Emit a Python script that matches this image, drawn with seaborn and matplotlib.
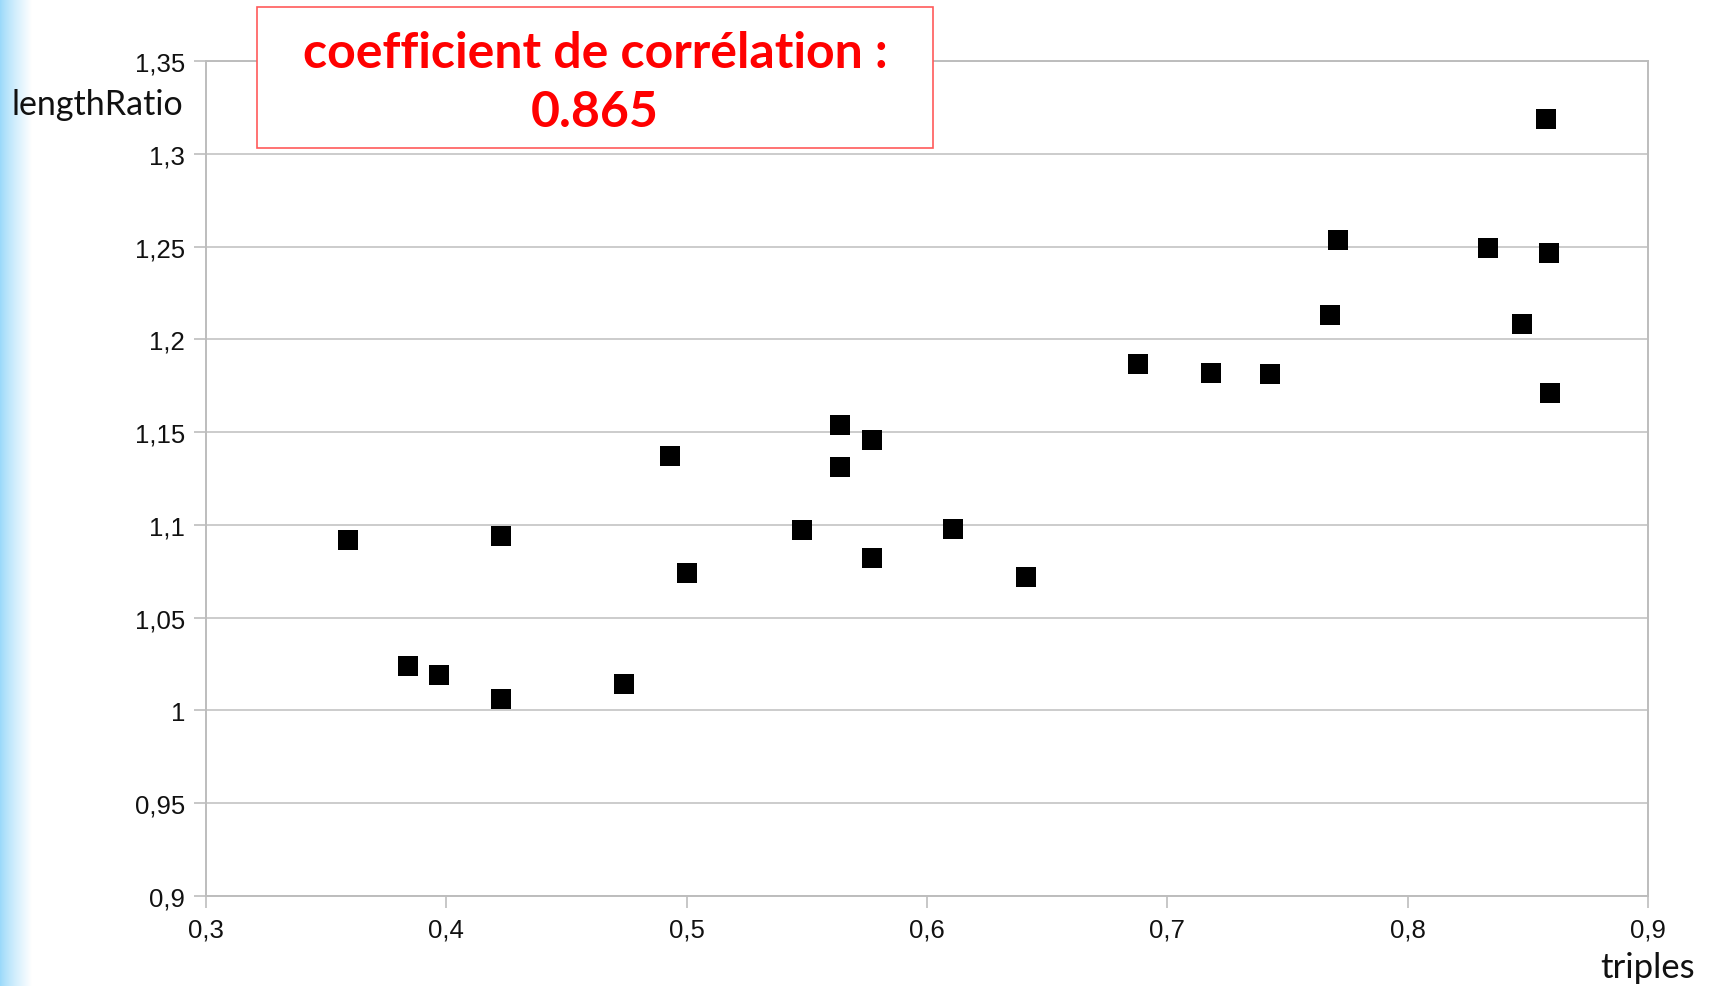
import numpy as np
import matplotlib
matplotlib.use("Agg")
import matplotlib.pyplot as plt
import seaborn as sns
import pandas as pd

# Observations: share of triples vs. length ratio
triples = [0.359, 0.384, 0.397, 0.4226, 0.4226, 0.474, 0.493, 0.500, 0.548,
           0.564, 0.564, 0.577, 0.577, 0.611, 0.641, 0.6877, 0.718, 0.7426,
           0.7675, 0.771, 0.8334, 0.8474, 0.8574, 0.8588, 0.8592]
length_ratio = [1.092, 1.024, 1.019, 1.094, 1.006, 1.0145, 1.137, 1.074, 1.097,
                1.154, 1.131, 1.1455, 1.082, 1.098, 1.072, 1.1867, 1.182, 1.1814,
                1.213, 1.2536, 1.249, 1.208, 1.319, 1.2466, 1.171]
x_ticks = [0.3, 0.4, 0.5, 0.6, 0.7, 0.8, 0.9]
y_ticks = [0.9, 0.95, 1.0, 1.05, 1.1, 1.15, 1.2, 1.25, 1.3, 1.35]
corr_text = "coefficient de corrélation :\n0.865"

df = pd.DataFrame({"triples": triples, "lengthRatio": length_ratio})

sns.set_theme(style="white")
plt.rcParams["font.family"] = ["Liberation Sans", "DejaVu Sans"]

W, H = 1709, 987
fig = plt.figure(figsize=(W / 100, H / 100), dpi=100)

# light blue fade along the left edge of the slide
band = fig.add_axes([0, 0, 32 / W, 1])
grad = np.linspace(0, 1, 64)[None, :]
c0 = np.array([0.60, 0.85, 0.98])
img = c0[None, None, :] * (1 - grad[..., None] ** 0.8) + np.ones(3)[None, None, :] * grad[..., None] ** 0.8
band.imshow(img, aspect="auto", extent=[0, 1, 0, 1])
band.set_axis_off()

ax = fig.add_axes([206 / W, 1 - 897 / H, (1648 - 206) / W, (897 - 62) / H])
sns.scatterplot(data=df, x="triples", y="lengthRatio", ax=ax, marker="s",
                s=205, color="black", linewidth=0, zorder=3)

grid_c = "#bdbdbd"
ax.set_xlim(0.3, 0.9)
ax.set_ylim(0.9, 1.35)
ax.set_xticks(x_ticks)
ax.set_yticks(y_ticks)
ax.set_xticklabels([f"{v:g}".replace(".", ",") for v in x_ticks])
ax.set_yticklabels([f"{v:g}".replace(".", ",") for v in y_ticks])
ax.yaxis.grid(True, color="#cccccc", linewidth=1.4)
ax.xaxis.grid(False)
for side in ["left", "bottom", "right", "top"]:
    ax.spines[side].set_visible(True)
    ax.spines[side].set_color(grid_c)
    ax.spines[side].set_linewidth(1.4)
ax.tick_params(axis="both", which="major", direction="out", length=8.5,
               width=1.2, color=grid_c, labelsize=18.5, labelcolor="#111111",
               left=True, bottom=True)
ax.tick_params(axis="y", pad=6.5)
ax.tick_params(axis="x", pad=7)
ax.set_xlabel("")
ax.set_ylabel("")

# axis titles placed at the ends of the axes
fig.text(12 / W, 1 - 105 / H, "lengthRatio", ha="left", va="center",
         fontsize=24.5, family=["Lato", "DejaVu Sans"], color="#111111")
fig.text(1695 / W, 1 - 968 / H, "triples", ha="right", va="center",
         fontsize=25, family=["Lato", "DejaVu Sans"], color="#111111")

# correlation annotation box
box = plt.Rectangle((257 / W, 1 - 149 / H), (933 - 257) / W, (149 - 8) / H,
                    transform=fig.transFigure, facecolor="white",
                    edgecolor="#ff5a5a", linewidth=1.2, zorder=5)
fig.add_artist(box)
fig.text(595 / W, 1 - 83 / H, corr_text, ha="center", va="center",
         fontsize=36, fontweight="bold", color="#ff0000", linespacing=1.4,
         family=["Lato", "DejaVu Sans"], zorder=6)

fig.savefig("out.png", dpi=100, facecolor="white")
